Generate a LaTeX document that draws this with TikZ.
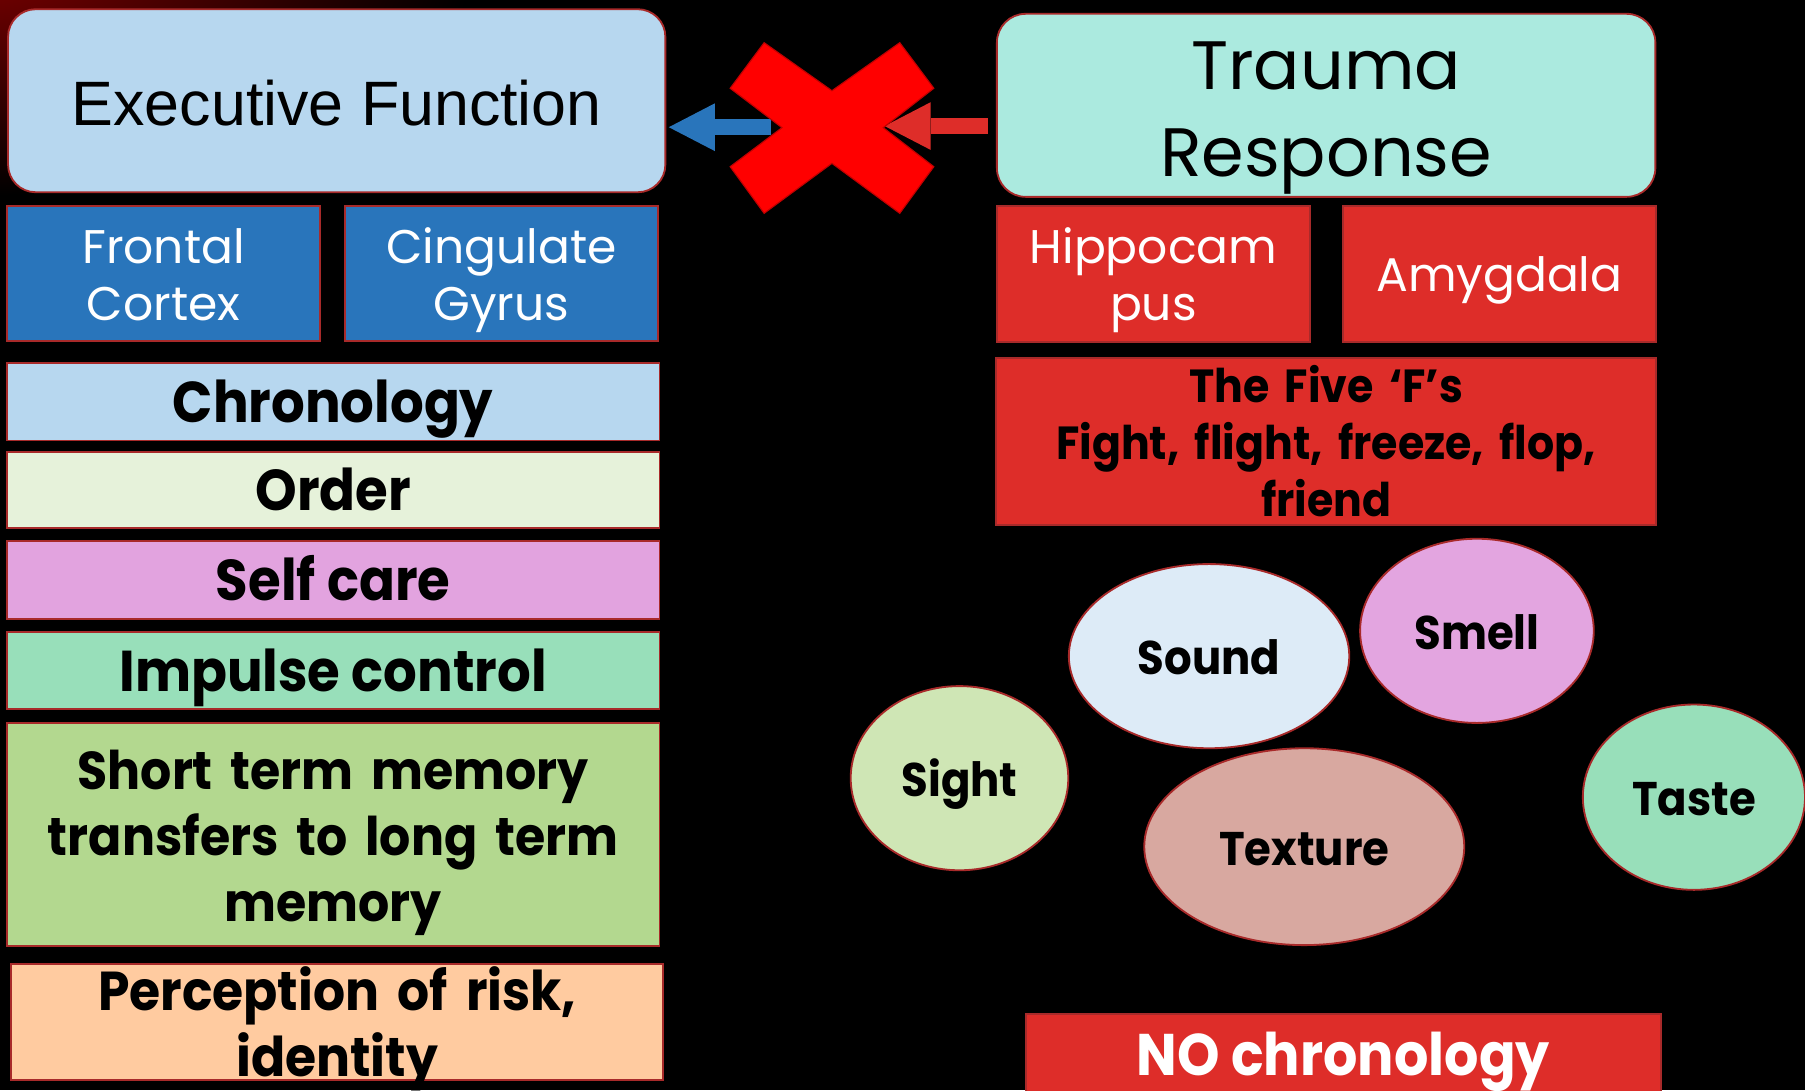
\documentclass[tikz,border=0pt]{standalone}
\usepackage{fontspec}
\setmainfont{Liberation Sans}
\newfontfamily\gothic{Poppins}
\newfontfamily\gothicheavy{Poppins}[FakeStretch=0.92]
\usetikzlibrary{shapes.geometric,arrows.meta,calc}

\definecolor{edge}{RGB}{168,42,42}
\definecolor{efblue}{RGB}{183,215,239}
\definecolor{midblue}{RGB}{41,117,187}
\definecolor{aqua}{RGB}{171,234,223}
\definecolor{alarm}{RGB}{222,45,41}
\definecolor{paleorder}{RGB}{230,242,218}
\definecolor{orchid}{RGB}{226,163,223}
\definecolor{mint}{RGB}{152,223,186}
\definecolor{leaf}{RGB}{179,216,143}
\definecolor{peach}{RGB}{255,203,160}
\definecolor{sightgreen}{RGB}{207,230,181}
\definecolor{soundblue}{RGB}{221,235,247}
\definecolor{smellpink}{RGB}{227,165,224}
\definecolor{rosebrown}{RGB}{216,168,160}
\definecolor{xred}{RGB}{255,0,0}
\definecolor{xedge}{RGB}{192,0,0}
\definecolor{glow}{RGB}{125,0,0}

\tikzset{
  panel/.style n args={3}{draw=edge, line width=1.6pt, inner sep=0pt, outer sep=0pt,
    minimum width=#1pt, minimum height=#2pt, fill=#3},
  tb/.style 2 args={text height=#1pt, text depth=#2pt},
  lighttext/.style={text=white, align=center, font=\gothic\fontsize{41}{49}\selectfont},
  heavytext/.style={text=black, align=center, font=\gothicheavy\bfseries\fontsize{50}{57.5}\selectfont},
  sense/.style n args={3}{ellipse, draw=edge, line width=1.6pt, inner sep=0pt,
    minimum width=#1pt, minimum height=#2pt, fill=#3,
    font=\gothicheavy\bfseries\fontsize{41}{48}\selectfont, text height=41pt, text depth=9pt},
  blockarrow/.style={line width=13.5pt, draw=#1,
    -{Triangle[length=40pt, width=41.5pt, line width=0pt]}},
}

\begin{document}
\begin{tikzpicture}[x=1pt,y=-1pt]
\useasboundingbox (0,0) rectangle (1568,947);
\clip (0,0) rectangle (1568,947);

% background with a dark red glow in the upper left corner
\fill[black] (0,0) rectangle (1568,947);
\shade[inner color=glow, outer color=black] (-30,-30) ellipse [x radius=440, y radius=200];

% ---- executive function column ----
\node[panel={571}{159}{efblue}, rounded corners=24pt, tb={61.1}{18.9},
      font=\fontsize{54.5}{60}\selectfont] (ef) at (292.5,87.5) {Executive Function};

\node[panel={272}{117}{midblue}, lighttext, text width=260pt, tb={31.5}{48.5}]
  (frontal) at (142,237.5) {Frontal\\Cortex};
\node[panel={272}{117}{midblue}, lighttext, text width=260pt, tb={31.5}{48.5}]
  (cingulate) at (435.5,237.5) {Cingulate\\Gyrus};

\node[panel={567}{67}{efblue}, heavytext, tb={48}{12}] (chron) at (289.4,349.2) {Chronology};
\node[panel={567}{66.6}{paleorder}, heavytext, tb={48}{12}] (order) at (289.4,425.7) {Order};
\node[panel={567}{68}{orchid}, heavytext, tb={48}{12}] (selfcare) at (289.4,504) {Self care};
\node[panel={567}{67.3}{mint}, heavytext, tb={48}{12}] (impulse) at (289.4,582.4) {Impulse control};

\node[panel={567}{194}{leaf}, heavytext, text width=550pt, tb={0.9}{79.1},
      font=\gothicheavy\bfseries\fontsize{46.3}{57.5}\selectfont]
  (memory) at (289.4,724.8) {Short term memory\\transfers to long term\\memory};

\node[panel={566.3}{100.5}{peach}, heavytext, text width=550pt, tb={29.4}{50.6},
      font=\gothicheavy\bfseries\fontsize{47.6}{57.6}\selectfont]
  (risk) at (292.9,888) {Perception of risk,\\identity};

% ---- trauma response column ----
\node[panel={572}{159}{aqua}, rounded corners=25pt, align=center, text width=540pt,
      tb={26.5}{53.5}, font=\gothic\fontsize{59.5}{75.5}\selectfont]
  (trauma) at (1152,91.5) {Trauma\\Response};

\node[panel={272}{118}{alarm}, lighttext, text width=260pt, tb={31}{49}]
  (hippo) at (1002,238) {Hippocam\\pus};
\node[panel={272}{118}{alarm}, lighttext, tb={55.4}{24.6}]
  (amygdala) at (1302.5,238) {Amygdala};

\node[panel={573}{145}{alarm}, heavytext, text width=560pt, tb={6.3}{73.7},
      font=\gothicheavy\bfseries\fontsize{40.3}{49.5}\selectfont]
  (fivef) at (1152,383.7) {The Five ‘F’s\\Fight, flight, freeze, flop,\\friend};

\node[panel={551.4}{100}{alarm}, heavytext, text=white, tb={33}{27},
      font=\gothicheavy\bfseries\fontsize{51}{57.5}\selectfont]
  (nochron) at (1166.9,931) {NO chronology};

% ---- the five senses ----
\node[sense={189}{160}{sightgreen}] (sight) at (833.5,676) {Sight};
\node[sense={243.6}{160}{soundblue}] (sound) at (1050.3,570) {Sound};
\node[sense={203}{160}{smellpink}] (smell) at (1283,548) {Smell};
\node[sense={278}{171}{rosebrown}] (texture) at (1133,735.5) {Texture};
\node[sense={193}{161}{mint}] (taste) at (1471.5,692.5) {Taste};

% ---- blocked link between the two systems ----
\coordinate (bluetail) at (670,110.5);
\coordinate (redtip) at (768.5,109.5);
\draw[blockarrow=midblue] (bluetail) -- ($(ef.east |- bluetail)+(3,0)$);
\draw[blockarrow=alarm] ($(trauma.west |- redtip)+(-8,0)$) -- (redtip);

\filldraw[fill=xred, draw=xedge, line width=1pt, line join=miter]
  (663.8,37.1) -- (722.7,78.8) -- (781.6,37.1) -- (811.2,76.7) -- (767.3,110.9)
  -- (811.2,144.8) -- (781.6,185.3) -- (722.7,141.9) -- (663.8,185.3)
  -- (634.3,144.8) -- (679.3,110.9) -- (634.3,76.7) -- cycle;
\end{tikzpicture}
\end{document}
